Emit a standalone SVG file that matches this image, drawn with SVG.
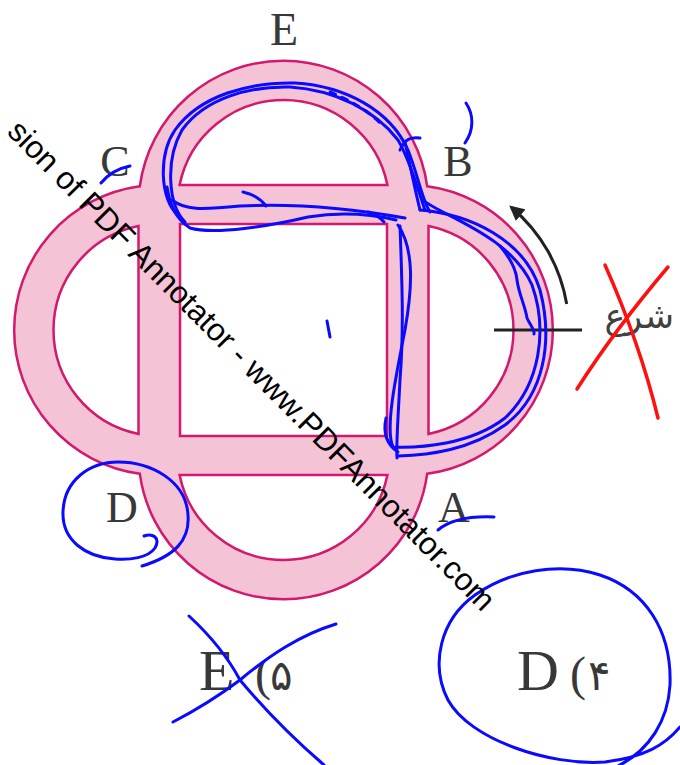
<svg xmlns="http://www.w3.org/2000/svg" width="680" height="765" viewBox="0 0 680 765">
<style>
.lbl{font-family:"Liberation Serif","DejaVu Serif",serif;fill:#383838;}
.ink{fill:none;stroke:#0a0aff;stroke-width:3;stroke-linecap:round;stroke-linejoin:round;}
.red{fill:none;stroke:#ff1010;stroke-width:3.5;stroke-linecap:round;}
.hole{fill:#ffffff;stroke:#d2196e;stroke-width:2.5;}
</style>
<defs>
<marker id="ah" viewBox="0 0 10 10" refX="8" refY="5" markerWidth="5" markerHeight="5" orient="auto-start-reverse">
<path d="M0,0 L10,5 L0,10 Z" fill="#222"/>
</marker>
</defs>
<rect width="680" height="765" fill="#ffffff"/>
<g id="figure">
<path d="M139.8,186.3 A145,145 0 0 1 427.2,186.3 A145,145 0 0 1 427.2,473.7 A145,145 0 0 1 139.8,473.7 A145,145 0 0 1 139.8,186.3 Z" fill="#f5c3d6" stroke="#d2196e" stroke-width="2.5"/>
<rect class="hole" x="180" y="224" width="207" height="212"/>
<path class="hole" d="M179.6,185 A106,106 0 0 1 387.4,185 Z"/>
<path class="hole" d="M138.5,433.9 A106,106 0 0 1 138.5,226.1 Z"/>
<path class="hole" d="M428.5,226.1 A106,106 0 0 1 428.5,433.9 Z"/>
<path class="hole" d="M387.4,475 A106,106 0 0 1 179.6,475 Z"/>
</g>
<g id="labels">
<text class="lbl" x="284" y="45" font-size="46" text-anchor="middle">E</text>
<text class="lbl" x="115" y="176" font-size="44" text-anchor="middle">C</text>
<text class="lbl" x="458" y="176" font-size="44" text-anchor="middle">B</text>
<text class="lbl" x="122" y="522" font-size="44" text-anchor="middle">D</text>
<text class="lbl" x="454" y="522" font-size="44" text-anchor="middle">A</text>
<text x="674" y="328" font-size="35" text-anchor="end" fill="#404040" font-family="'DejaVu Sans','Noto Sans',sans-serif">شرع</text>
<text class="lbl" x="199" y="690" font-size="58">E</text>
<text class="lbl" x="255" y="690" font-size="48">(</text>
<text x="270" y="690" font-size="42" fill="#383838" font-family="'DejaVu Sans',sans-serif">۵</text>
<text class="lbl" x="517" y="690" font-size="58">D</text>
<text class="lbl" x="570" y="690" font-size="48">(</text>
<text x="588" y="690" font-size="42" fill="#383838" font-family="'DejaVu Sans',sans-serif">۴</text>
</g>
<g id="start-marker">
<line x1="494" y1="330" x2="582" y2="330" stroke="#222" stroke-width="3"/>
<path d="M566.7,304 A161,161 0 0 0 511.5,207.5" fill="none" stroke="#222" stroke-width="3" marker-end="url(#ah)"/>
</g>
<g id="annotations">
<path class="ink" d="M178,215 C160,200 158,155 175,130 C200,95 250,82 295,83 C345,86 390,110 408,150 C418,175 422,200 430,212"/>
<path class="ink" d="M185,222 C168,205 165,160 182,130 C205,98 250,86 290,87 C335,90 375,110 398,140 C410,160 418,190 425,210"/>
<path class="ink" d="M330,92 C350,100 370,112 382,125" stroke-dasharray="6 7"/>
<path class="ink" d="M172,200 C185,210 200,210 240,206 C300,203 360,210 405,218"/>
<path class="ink" d="M167,187 C170,205 175,218 190,228 C215,235 270,226 308,217 C340,212 370,214 396,220"/>
<path class="ink" d="M243,192 C252,194 260,198 266,206"/>
<path class="ink" d="M368,212 C374,214 380,217 384,222"/>
<path class="ink" d="M420,210 C470,214 525,240 540,290 C553,340 545,395 505,425 C470,450 430,455 398,456"/>
<path class="ink" d="M423,200 C440,215 510,235 532,285 C548,330 540,385 505,418 C470,445 420,448 393,447 C385,430 395,380 405,330 C412,290 415,250 398,225"/>
<path class="ink" d="M500,246 C510,258 516,268 517,280 C519,295 525,305 527,318 C530,325 535,330 534,334" stroke-width="2"/>
<path class="ink" d="M400,226 C402,280 404,330 400,380 C398,420 396,445 397,458"/>
<path class="ink" d="M386,418 C383,432 386,444 398,452"/>
<path class="ink" d="M400,150 C405,138 412,137 420,138"/>
<path class="ink" d="M405,142 C410,165 415,190 420,210"/>
<path class="ink" d="M466,103 C474,115 474,130 465,143"/>
<path class="ink" d="M101,183 C110,172 120,168 130,166"/>
<path class="ink" d="M327,321 L330,337"/>
<path class="ink" d="M438,530 C450,520 470,516 494,517"/>
<path class="ink" d="M144,536 C152,533 161,537 155,548 C148,558 130,560 115,559 C85,557 62,540 63,512 C64,480 90,462 118,462 C150,462 186,480 188,515 C190,540 175,556 142,566"/>
<path class="ink" d="M189,616 C215,640 232,665 240,680 C265,710 295,740 324,765"/>
<path class="ink" d="M173,722 C200,708 220,695 240,680 C270,655 300,635 336,624"/>
<path class="ink" d="M680,727 C665,745 645,757 605,762 C550,766 470,740 448,700 C430,665 440,620 475,595 C510,570 560,562 600,575 C645,590 672,630 670,685 C668,720 650,750 618,766"/>
</g>
<g id="cross-out">
<path class="red" d="M605,265 C625,310 645,365 658,418"/>
<path class="red" d="M668,267 C640,300 605,345 577,389"/>
</g>
<g id="watermark">
<text transform="translate(6,133) rotate(45.2)" font-family="'Liberation Sans',Arial,sans-serif" font-size="31.5" fill="#000">sion of PDF Annotator - www.PDFAnnotator.com</text>
</g>
</svg>
